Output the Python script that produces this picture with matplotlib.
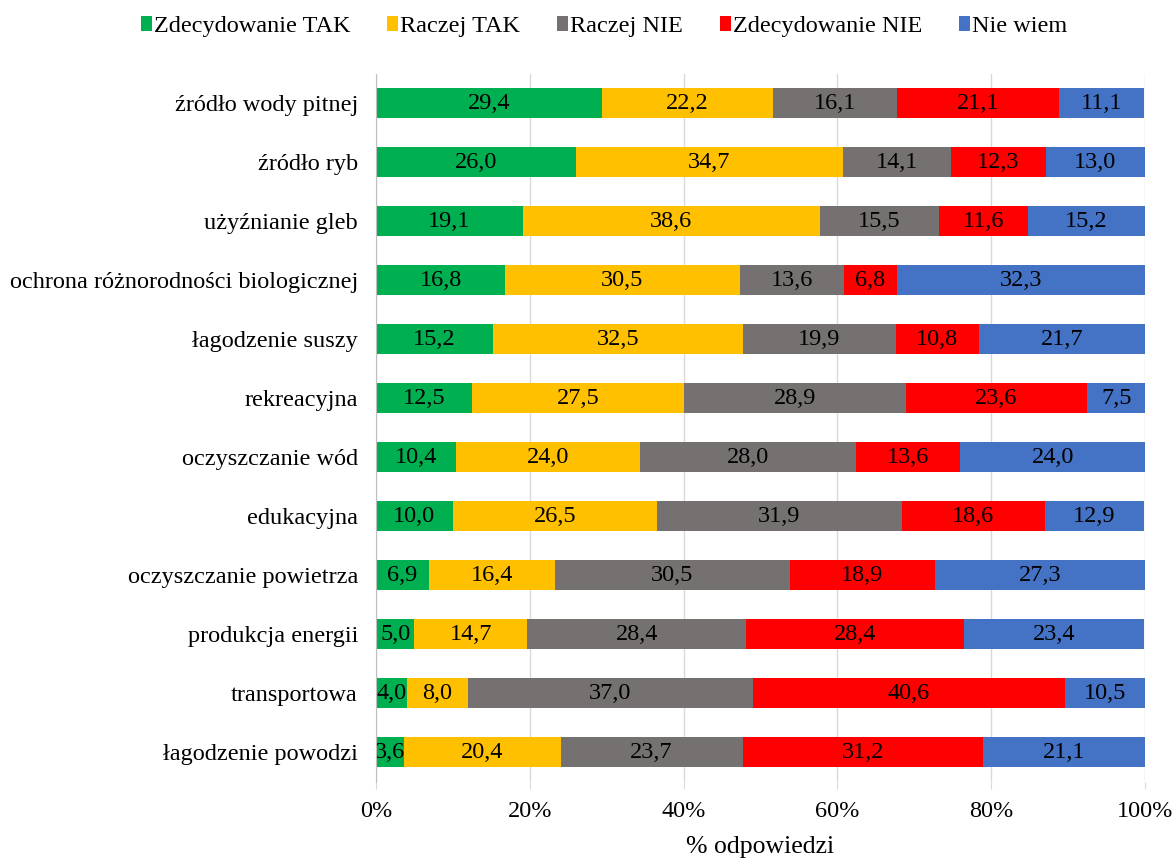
import matplotlib.pyplot as plt
import numpy as np

plt.rcParams['font.family'] = ['Liberation Serif', 'DejaVu Serif']

# --- Data ---
categories = [
    "źródło wody pitnej",
    "źródło ryb",
    "użyźnianie gleb",
    "ochrona różnorodności biologicznej",
    "łagodzenie suszy",
    "rekreacyjna",
    "oczyszczanie wód",
    "edukacyjna",
    "oczyszczanie powietrza",
    "produkcja energii",
    "transportowa",
    "łagodzenie powodzi",
]

zdecydowanie_tak = [29.4, 26.0, 19.1, 16.8, 15.2, 12.5, 10.4, 10.0, 6.9, 5.0, 4.0, 3.6]
raczej_tak = [22.2, 34.7, 38.6, 30.5, 32.5, 27.5, 24.0, 26.5, 16.4, 14.7, 8.0, 20.4]
raczej_nie = [16.1, 14.1, 15.5, 13.6, 19.9, 28.9, 28.0, 31.9, 30.5, 28.4, 37.0, 23.7]
zdecydowanie_nie = [21.1, 12.3, 11.6, 6.8, 10.8, 23.6, 13.6, 18.6, 18.9, 28.4, 40.6, 31.2]
nie_wiem = [11.1, 13.0, 15.2, 32.3, 21.7, 7.5, 24.0, 12.9, 27.3, 23.4, 10.5, 21.1]

series_names = ["Zdecydowanie TAK", "Raczej TAK", "Raczej NIE", "Zdecydowanie NIE", "Nie wiem"]
series = [zdecydowanie_tak, raczej_tak, raczej_nie, zdecydowanie_nie, nie_wiem]
colors = ["#00B050", "#FFC000", "#767171", "#FF0000", "#4472C4"]

# --- Plot ---
fig = plt.figure(figsize=(11.73, 8.59), dpi=100)
ax = fig.add_axes([0.3205, 0.0902, 0.6556, 0.8242])

y = np.arange(len(categories))
left = np.zeros(len(categories))
for name, vals, col in zip(series_names, series, colors):
    vals = np.array(vals)
    bars = ax.barh(y, vals, left=left, height=0.51, color=col, label=name, zorder=3)
    labels = [f"{v:.1f}".replace(".", ",") for v in vals]
    ax.bar_label(bars, labels=labels, label_type="center", fontsize=17.5, color="black")
    left += vals

ax.set_ylim(len(categories) - 0.5, -0.5)
ax.set_xlim(0, 100)
ax.set_yticks(y)
ax.set_yticklabels(categories, fontsize=17.5)
ax.set_xticks(np.arange(0, 101, 20))
ax.set_xticklabels([f"{t}%" for t in range(0, 101, 20)], fontsize=17.5)
ax.tick_params(axis="y", length=0, pad=13)
ax.tick_params(axis="x", length=5, color="#D9D9D9", pad=9)

ax.grid(axis="x", color="#D9D9D9", linewidth=1, zorder=0)
for s in ["top", "right", "bottom"]:
    ax.spines[s].set_visible(False)
ax.spines["left"].set_color("#BFBFBF")
ax.spines["left"].set_zorder(4)

ax.set_xlabel("% odpowiedzi", fontsize=18.5, labelpad=10)

ax.legend(loc="center", bbox_to_anchor=(0.515, 0.969), bbox_transform=fig.transFigure,
          ncol=5, frameon=False, fontsize=17.5, handlelength=0.45, handleheight=0.6,
          handletextpad=0.1, columnspacing=1.5)

plt.savefig("out.png", dpi=100)
